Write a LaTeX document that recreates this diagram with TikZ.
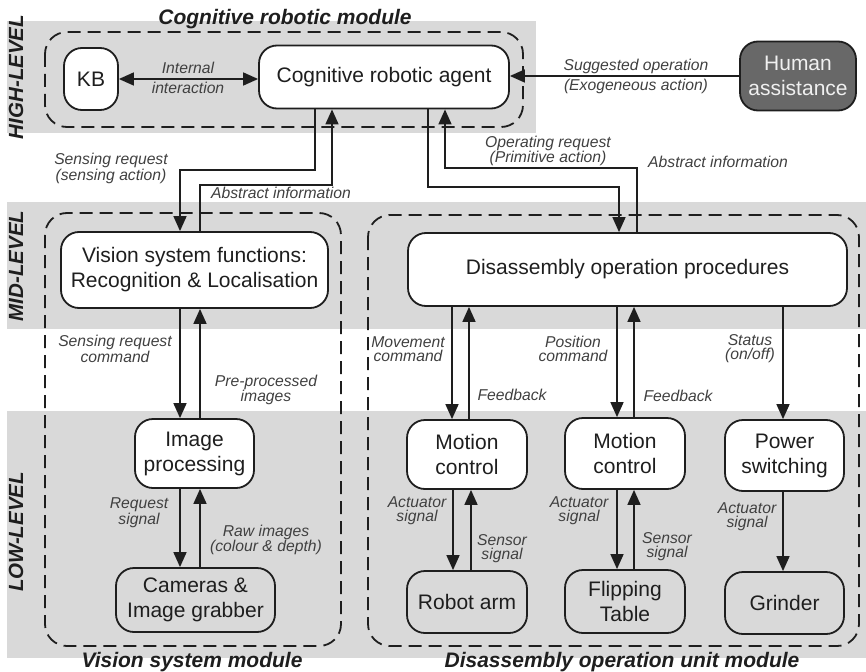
\documentclass[tikz,border=0pt]{standalone}
\usepackage{fontspec}
\setmainfont{Liberation Sans}
\usetikzlibrary{arrows.meta}

\definecolor{bandgray}{HTML}{D9D9D9}
\definecolor{humanfill}{HTML}{686868}
\definecolor{ink}{HTML}{1E1E1E}

\tikzset{
  box/.style={draw=ink, line width=1.8pt, rounded corners=18pt, fill=white,
    font=\fontsize{21}{25}\selectfont, text=ink, align=center, inner sep=0pt},
  lbl/.style={font=\fontsize{15.7}{14}\selectfont\itshape, text=ink!85,
    align=center, inner sep=0pt},
  arr/.style={draw=ink, line width=1.6pt, -{Triangle[length=15pt,width=13pt]}},
  arrboth/.style={draw=ink, line width=1.6pt,
    {Triangle[length=15pt,width=13pt]}-{Triangle[length=15pt,width=13pt]}},
  modbox/.style={draw=ink, line width=1.8pt, dash pattern=on 13pt off 7pt,
    rounded corners=22pt},
  levellbl/.style={font=\fontsize{20.5}{24}\selectfont\bfseries\itshape,
    text=ink, rotate=90, inner sep=0pt},
  modtitle/.style={font=\fontsize{21}{24}\selectfont\bfseries\itshape,
    text=ink, anchor=base, inner sep=0pt},
}

\begin{document}
\begin{tikzpicture}[x=1pt,y=-1pt]
\useasboundingbox (0,0) rectangle (866,671);

% level bands
\fill[bandgray] (7,21) rectangle (536,133);
\fill[bandgray] (7,202) rectangle (866,329);
\fill[bandgray] (7,411) rectangle (866,658);

\node[levellbl] (lvhigh) at (16,77) {HIGH-LEVEL};
\node[levellbl] (lvmid) at (16,266) {MID-LEVEL};
\node[levellbl] (lvlow) at (16,532) {LOW-LEVEL};

% module frames
\draw[modbox] (45,32) rectangle (523,127);
\draw[modbox] (45,213) rectangle (341,646);
\draw[modbox] (368,215) rectangle (859,646);

\node[modtitle] (tcog) at (285,25) {Cognitive robotic module};
\node[modtitle] (tvis) at (192,667) {Vision system module};
\node[modtitle] (tdis) at (622,667) {Disassembly operation unit module};

% high level
\node[box, minimum width=54pt, minimum height=62pt] (kb) at (91,79) {KB};
\node[box, minimum width=250pt, minimum height=63pt] (agent) at (384,77) {Cognitive robotic agent};
\node[box, fill=humanfill, text=white!94!black, minimum width=116pt, minimum height=69pt] (human) at (798,76) {Human\\assistance};

% mid level
\node[box, minimum width=267pt, minimum height=76pt] (vf) at (194.5,270) {Vision system functions:\\Recognition \& Localisation};
\node[box, minimum width=439pt, minimum height=73pt] (dop) at (627.5,269.5) {Disassembly operation procedures};

% low level
\node[box, minimum width=119pt, minimum height=69pt] (ip) at (194.5,453.5) {Image\\processing};
\node[box, fill=none, minimum width=159pt, minimum height=64pt] (cam) at (195.5,600) {Cameras \&\\Image grabber};
\node[box, minimum width=120pt, minimum height=69pt] (mc1) at (467,454.5) {Motion\\control};
\node[box, minimum width=120pt, minimum height=71pt] (mc2) at (625,453.5) {Motion\\control};
\node[box, minimum width=119pt, minimum height=71pt] (pw) at (784.5,455.5) {Power\\switching};
\node[box, fill=none, minimum width=120pt, minimum height=62pt] (arm) at (467,602) {Robot arm};
\node[box, fill=none, minimum width=120pt, minimum height=63pt] (flip) at (625,601.5) {Flipping\\Table};
\node[box, fill=none, minimum width=119pt, minimum height=62pt] (grind) at (784.5,603) {Grinder};

% high-level links
\draw[arrboth] (kb.east) -- (kb.east -| agent.west);
\draw[arr] (human.west) -- (human.west -| agent.east);
\node[lbl] (lint1) at (188,68) {Internal};
\node[lbl] (lint2) at (188,88) {interaction};
\node[lbl] (lsug1) at (636,66) {Suggested operation};
\node[lbl] (lsug2) at (636,86) {(Exogeneous action)};

% agent <-> vision system
\draw[arr] (315,0 |- agent.south) |- (180,170) -- (180,0 |- vf.north);
\draw[arr] (200,0 |- vf.north) |- (332,185) -- (332,0 |- agent.south);
\node[lbl] (lsens) at (111,168.5) {Sensing request\\(sensing action)};
\node[lbl] (labs1) at (281,193) {Abstract information};

% agent <-> disassembly procedures
\draw[arr] (428,0 |- agent.south) |- (619,187) -- (619,0 |- dop.north);
\draw[arr] (637,0 |- dop.north) |- (445,168) -- (445,0 |- agent.south);
\node[lbl] (lop) at (548,151) {Operating request\\(Primitive action)};
\node[lbl] (labs2) at (718,162) {Abstract information};

% vision chain
\draw[arr] (180,0 |- vf.south) -- (180,0 |- ip.north);
\draw[arr] (200,0 |- ip.north) -- (200,0 |- vf.south);
\draw[arr] (180,0 |- ip.south) -- (180,0 |- cam.north);
\draw[arr] (200,0 |- cam.north) -- (200,0 |- ip.south);
\node[lbl] (lsrc) at (115,349) {Sensing request\\command};
\node[lbl] (lpre) at (266,390) {Pre-processed\\images};
\node[lbl] (lreq) at (139,513) {Request\\signal};
\node[lbl] (lraw) at (266,540) {Raw images\\(colour \& depth)};

% disassembly chain
\draw[arr] (452,0 |- dop.south) -- (452,0 |- mc1.north);
\draw[arr] (469,0 |- mc1.north) -- (469,0 |- dop.south);
\draw[arr] (617,0 |- dop.south) -- (617,0 |- mc2.north);
\draw[arr] (634,0 |- mc2.north) -- (634,0 |- dop.south);
\draw[arr] (783,0 |- dop.south) -- (783,0 |- pw.north);
\node[lbl] (lmov) at (408,349) {Movement\\command};
\node[lbl] (lfb1) at (512,395) {Feedback};
\node[lbl] (lpos) at (573,349) {Position\\command};
\node[lbl] (lfb2) at (678,396) {Feedback};
\node[lbl] (lsta) at (750,349) {Status\\(on/off)};

\draw[arr] (453,0 |- mc1.south) -- (453,0 |- arm.north);
\draw[arr] (471,0 |- arm.north) -- (471,0 |- mc1.south);
\draw[arr] (617,0 |- mc2.south) -- (617,0 |- flip.north);
\draw[arr] (634,0 |- flip.north) -- (634,0 |- mc2.south);
\draw[arr] (783,0 |- pw.south) -- (783,0 |- grind.north);
\node[lbl] (lact1) at (417,511) {Actuator\\signal};
\node[lbl] (lsen1) at (502,548.5) {Sensor\\signal};
\node[lbl] (lact2) at (579,511) {Actuator\\signal};
\node[lbl] (lsen2) at (667,547) {Sensor\\signal};
\node[lbl] (lact3) at (747,516.5) {Actuator\\signal};
\end{tikzpicture}
\end{document}
